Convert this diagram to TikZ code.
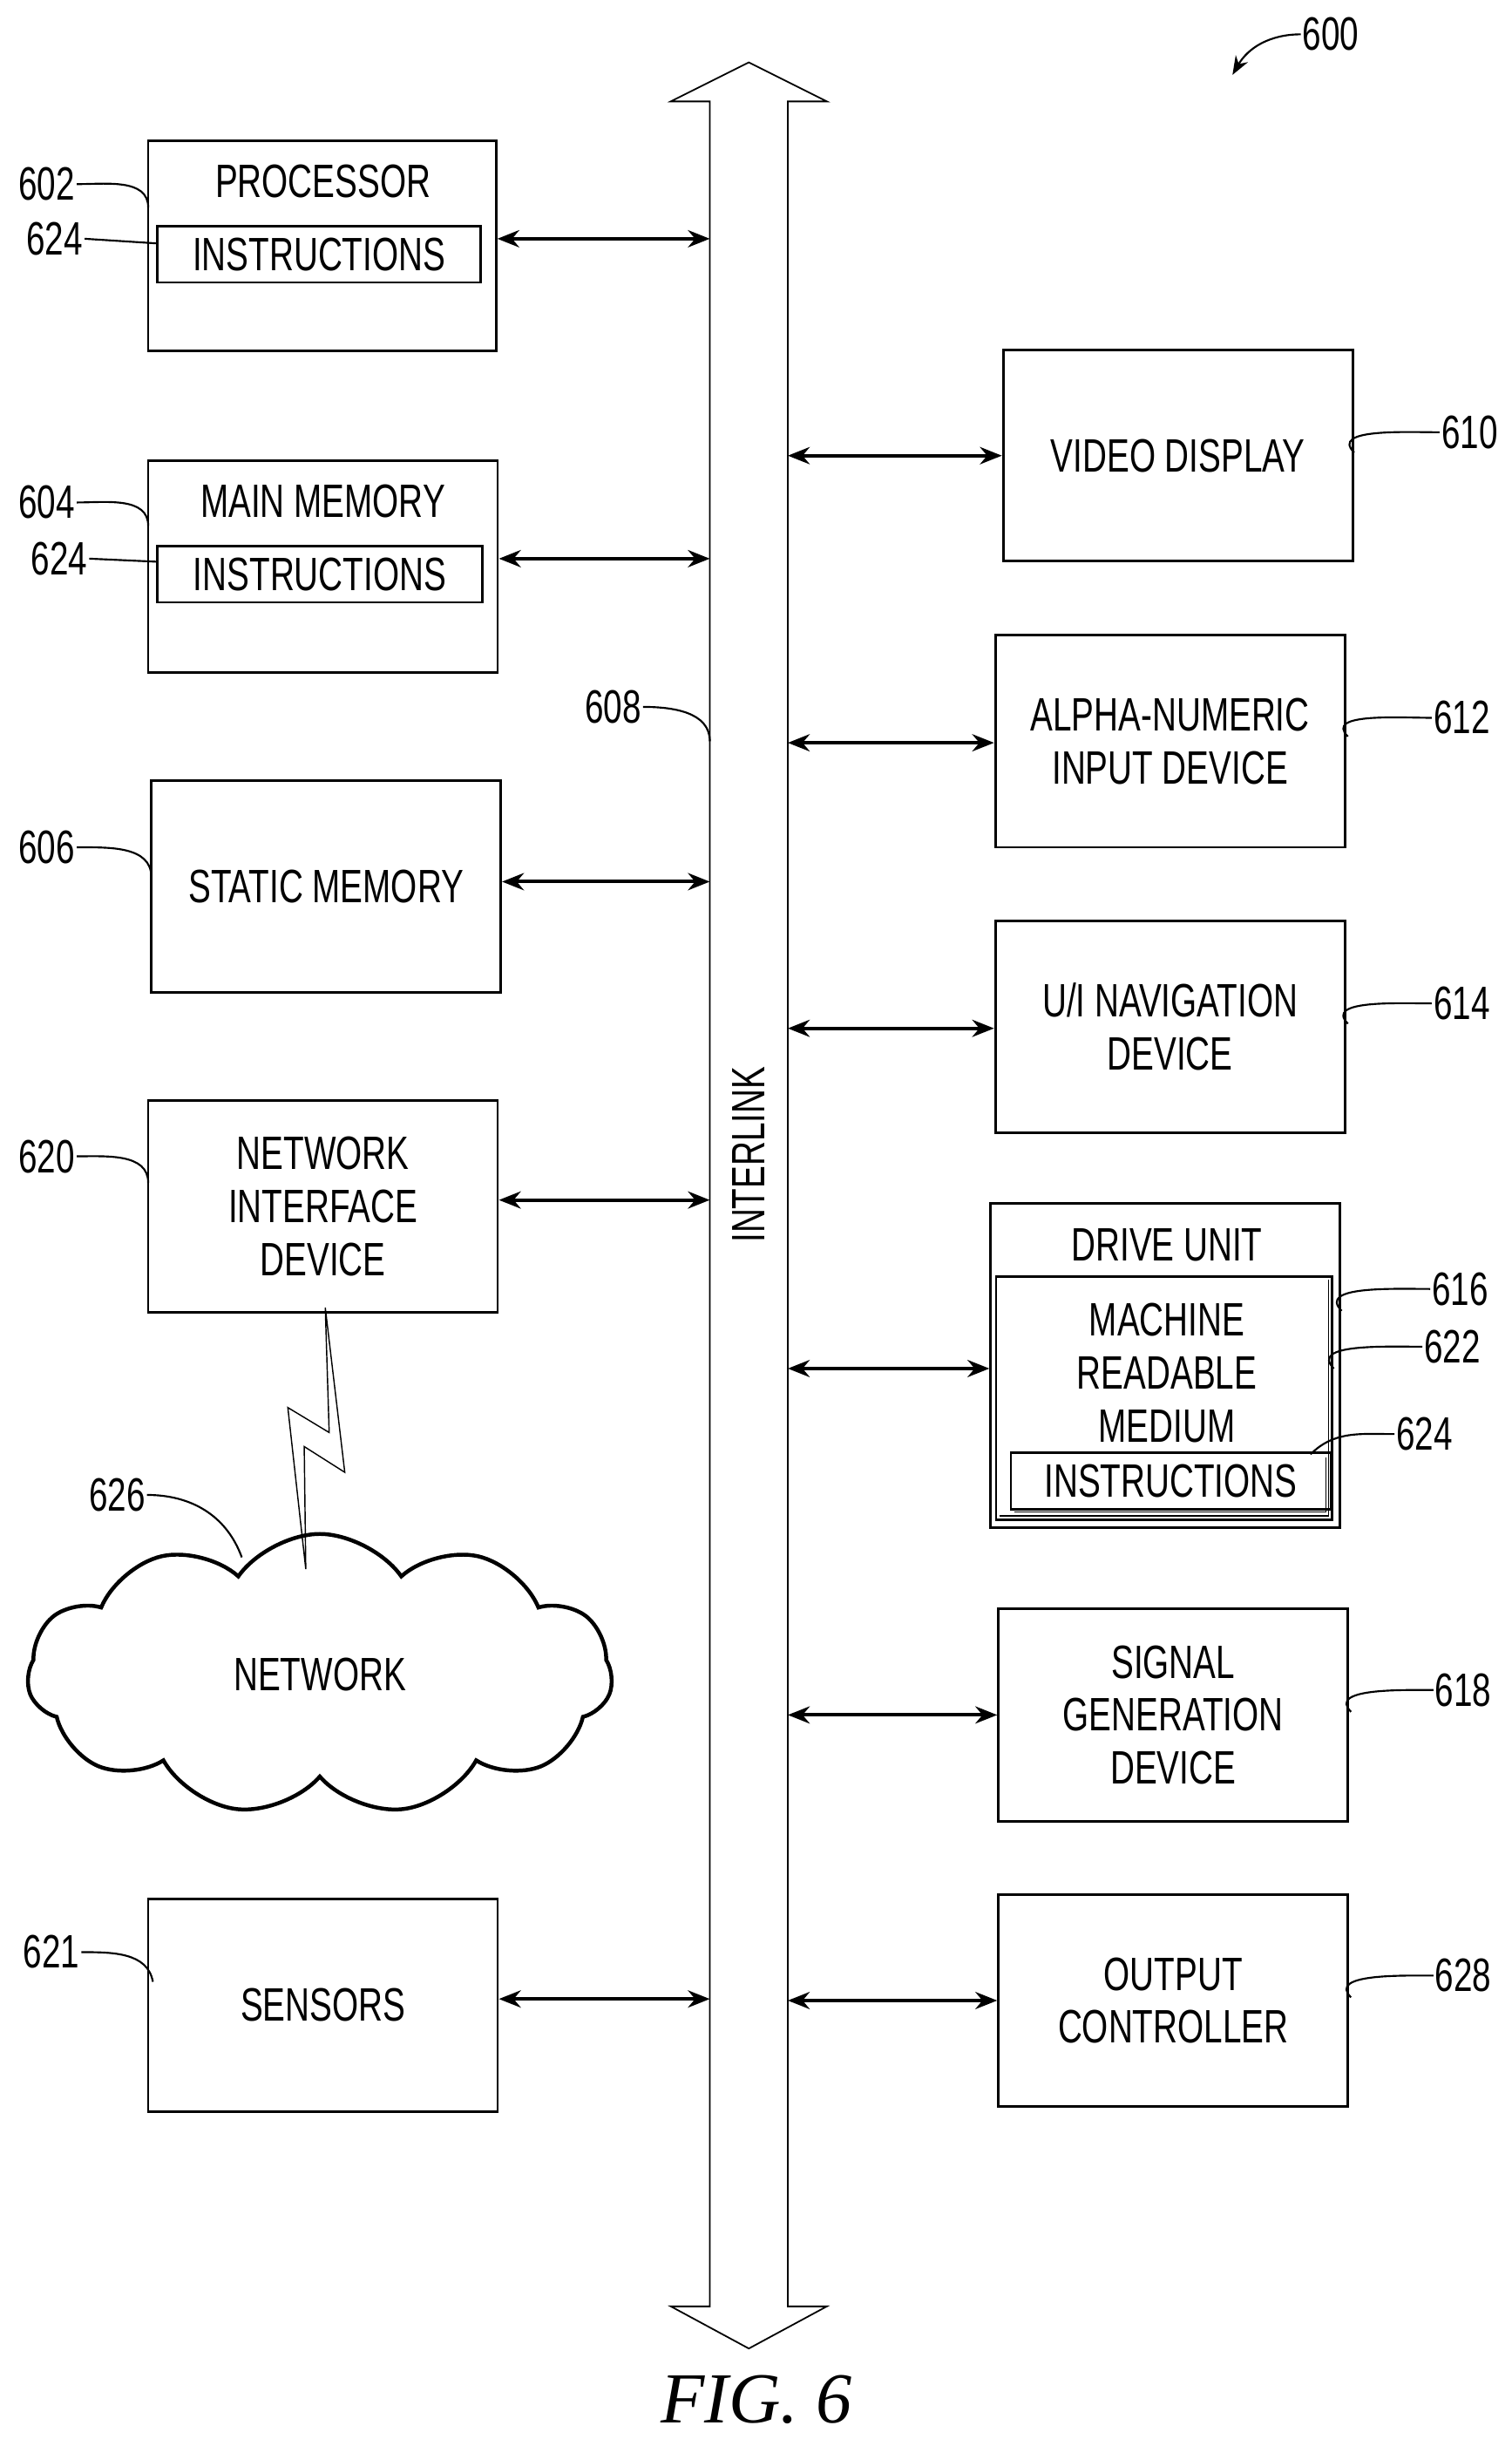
\documentclass[tikz,border=0pt]{standalone}
\usepackage{fontspec}
\setmainfont{Liberation Sans}[FakeStretch=0.72]
\newfontfamily\figfont{Liberation Serif}
\usetikzlibrary{shapes.symbols,arrows.meta,shapes.arrows}
\begin{document}
\begin{tikzpicture}[x=1pt,y=-1pt,
 box/.style={draw,line width=1.6pt,align=center,font=\fontsize{30}{36}\selectfont,inner sep=0pt},
 lab/.style={font=\fontsize{30}{36}\selectfont,inner sep=1pt},
 conn/.style={line width=2.2pt,{Stealth[length=14pt,width=11pt]}-{Stealth[length=14pt,width=11pt]}},
 lead/.style={line width=1.2pt}]
\useasboundingbox (0,0) rectangle (969,1563);
% bus
\draw[line width=1pt] (480,40) -- (530,65) -- (505,65) -- (505,1478) -- (530,1478) -- (480,1505) -- (430,1478) -- (455,1478) -- (455,65) -- (430,65) -- cycle;
\node[lab,rotate=90] (bus) at (480,740) {INTERLINK};
\coordinate (bl) at (455,0); \coordinate (br) at (505,0);
% left boxes
\node[box,minimum width=223pt,minimum height=135pt] (p) at (206.5,157.5) {};
\node[lab] at (207,116) {PROCESSOR};
\node[box,minimum width=207pt,minimum height=36pt] (pi) at (204.5,163) {INSTRUCTIONS};
\node[box,minimum width=224pt,minimum height=136pt] (m) at (207,363) {};
\node[lab] at (207,321) {MAIN MEMORY};
\node[box,minimum width=208pt,minimum height=36pt] (mi) at (205,368) {INSTRUCTIONS};
\node[box,minimum width=224pt,minimum height=136pt] (s) at (209,568) {STATIC MEMORY};
\node[box,minimum width=224pt,minimum height=136pt] (n) at (207,773) {NETWORK\\[-2pt]INTERFACE\\[-2pt]DEVICE};
\node[box,minimum width=224pt,minimum height=136pt] (se) at (207,1285) {SENSORS};
% right boxes
\node[box,minimum width=224pt,minimum height=135pt] (v) at (755,292) {VIDEO DISPLAY};
\node[box,minimum width=224pt,minimum height=136pt] (a) at (750,475) {ALPHA-NUMERIC\\[-2pt]INPUT DEVICE};
\node[box,minimum width=224pt,minimum height=136pt] (u) at (750,658) {U/I NAVIGATION\\[-2pt]DEVICE};
\node[box,minimum width=224pt,minimum height=208pt] (d) at (747,875) {};
\node[lab] at (748,798) {DRIVE UNIT};
\node[box,minimum width=215.5pt,minimum height=156pt] (mr) at (746.25,896) {};
\draw[line width=0.8pt] (640.5,971.5) -- (851.5,971.5) -- (851.5,820);
\node[lab,align=center] at (748,880) {MACHINE\\[-2pt]READABLE\\[-2pt]MEDIUM};
\node[box,minimum width=205pt,minimum height=36pt] (di) at (750.5,949) {INSTRUCTIONS};
\draw[line width=0.8pt] (650,969) -- (850,969) -- (850,934);
\node[box,minimum width=224pt,minimum height=136pt] (sg) at (752,1099) {SIGNAL\\[-2pt]GENERATION\\[-2pt]DEVICE};
\node[box,minimum width=224pt,minimum height=136pt] (oc) at (752,1282) {OUTPUT\\[-2pt]CONTROLLER};
% connectors
\foreach \b/\y in {p/153,m/358,s/565,n/769,se/1281}{
 \draw[conn] (\b.east|-0,\y) -- (bl|-0,\y);}
\foreach \b/\y in {v/292,a/476,u/659,d/877,sg/1099,oc/1282}{
 \draw[conn] (br|-0,\y) -- (\b.west|-0,\y);}
% cloud
\node[cloud,draw,line width=2.5pt,cloud puffs=11,cloud puff arc=110,aspect=2.3,minimum width=375pt,minimum height=180pt,font=\fontsize{30}{36}\selectfont] (net) at (205,1073) {NETWORK};
\draw[line width=0.8pt] (208.5,838) -- (221,943.5) -- (195,927) -- (196,1005.5) -- (184.5,902) -- (211,918) -- cycle;
% labels
\node[lab] (l600) at (853,22) {600};
\draw[lead,-{Stealth[length=12pt,width=9pt]}] (l600.west) to[out=180,in=60] (790,48);
\node[lab] (l602) at (30,118) {602};
\draw[lead] (l602.east) to[out=0,in=90] (95,133);
\node[lab] (l624a) at (35,153) {624};
\draw[lead] (l624a.east) -- (101,156);
\node[lab] (l604) at (30,322) {604};
\draw[lead] (l604.east) to[out=0,in=90] (95,337);
\node[lab] (l624b) at (38,358) {624};
\draw[lead] (l624b.east) -- (101,360);
\node[lab] (l608) at (393,453) {608};
\draw[lead] (l608.east) to[out=0,in=90] (455,475);
\node[lab] (l606) at (30,543) {606};
\draw[lead] (l606.east) to[out=0,in=90] (97,562);
\node[lab] (l620) at (30,741) {620};
\draw[lead] (l620.east) to[out=0,in=90] (95,758);
\node[lab] (l626) at (75,958) {626};
\draw[lead] (l626.east) to[out=0,in=110] (155,998);
\node[lab] (l621) at (33,1251) {621};
\draw[lead] (l621.east) to[out=0,in=100] (98,1270);
\node[lab] (l610) at (942,277) {610};
\draw[lead] (l610.west) to[out=180,in=135] (868,290);
\node[lab] (l612) at (937,460) {612};
\draw[lead] (l612.west) to[out=180,in=135] (864,472);
\node[lab] (l614) at (937,643) {614};
\draw[lead] (l614.west) to[out=180,in=135] (864,656);
\node[lab] (l616) at (936,826) {616};
\draw[lead] (l616.west) to[out=180,in=135] (860,840);
\node[lab] (l622) at (931,863) {622};
\draw[lead] (l622.west) to[out=180,in=135] (855,877);
\node[lab] (l624c) at (913,919) {624};
\draw[lead] (l624c.west) to[out=180,in=45] (840,932);
\node[lab] (l618) at (938,1083) {618};
\draw[lead] (l618.west) to[out=180,in=135] (866,1097);
\node[lab] (l628) at (938,1266) {628};
\draw[lead] (l628.west) to[out=180,in=135] (866,1280);
\node[font=\figfont\itshape\fontsize{46}{50}\selectfont] (fig) at (485,1538) {FIG. 6};
\end{tikzpicture}
\end{document}
